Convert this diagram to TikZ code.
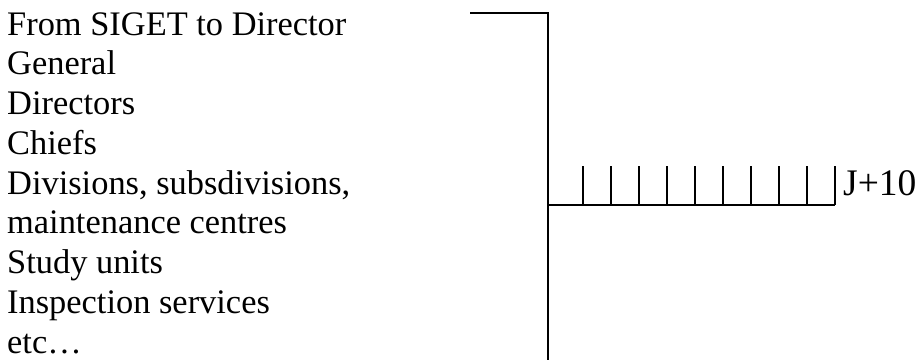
\documentclass[tikz,border=0pt]{standalone}
\usepackage{fontspec}
\setmainfont{Liberation Serif}
\begin{document}
\begin{tikzpicture}[x=1pt,y=-1pt,
  lbl/.style={anchor=base west,inner sep=0pt,font=\fontsize{34.4}{40}\selectfont},
  ln/.style={line width=2pt,line cap=butt}]
\useasboundingbox (0,0) rectangle (919,360);
\foreach \t [count=\i from 0] in {From SIGET to Director,General,Directors,Chiefs,{Divisions, subsdivisions,},maintenance centres,Study units,Inspection services,etc\dots}
  \node[lbl] (t\i) at (7,35+39.75*\i) {\t};
\coordinate (a) at (470,13);
\coordinate (b) at (548,13);
\coordinate (c) at (548,360);
\coordinate (d) at (548,205);
\coordinate (e) at (835,205);
\draw[ln] (a) -- (b) -- (c);
\draw[ln] (d) -- (e);
\foreach \k in {0,...,9}
  \draw[ln] (582.5+28.05*\k,205) -- ++(0,-39);
\node[lbl,font=\fontsize{37.5}{44}\selectfont] (j) at (843,195) {J+10};
\end{tikzpicture}
\end{document}
